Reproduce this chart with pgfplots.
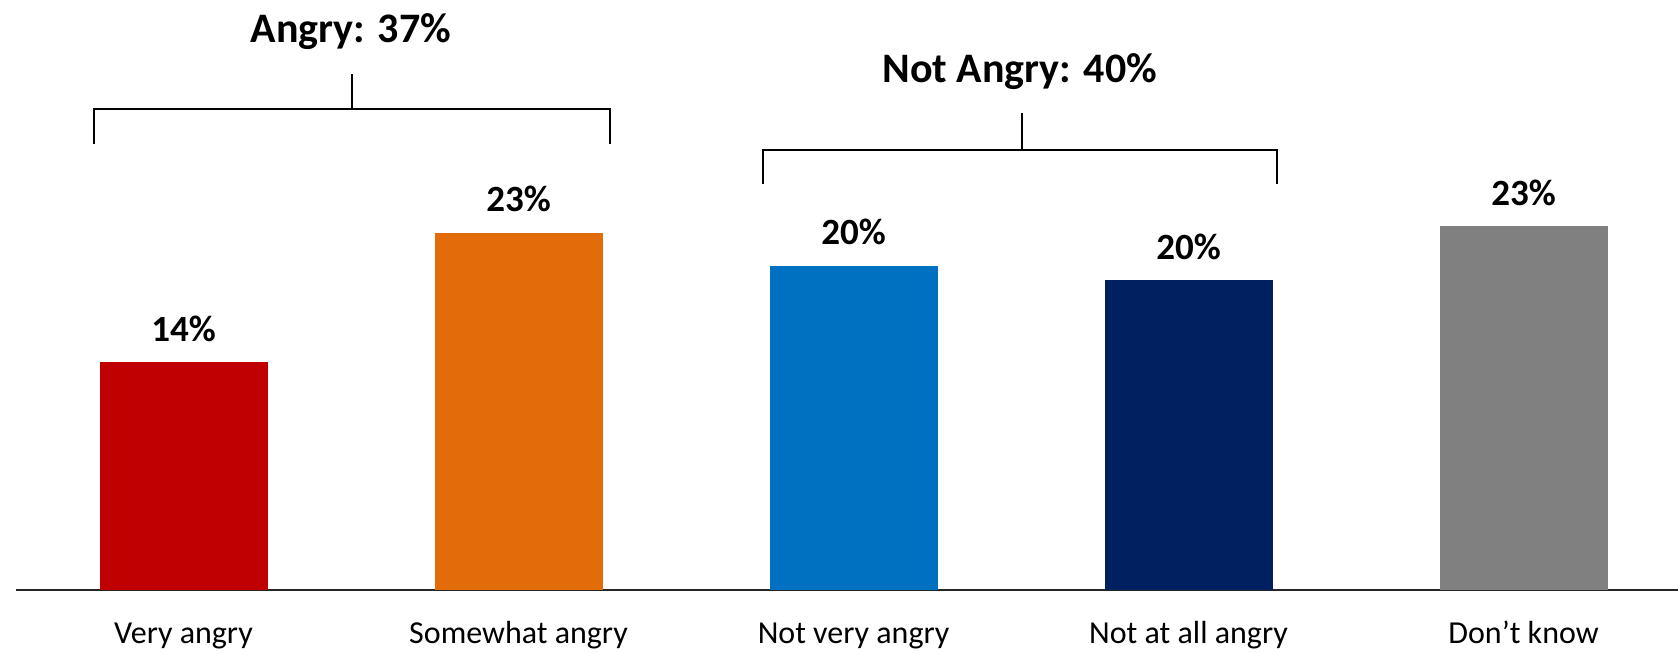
\documentclass[border=0pt]{standalone}
\usepackage{pgfplots}
\pgfplotsset{compat=1.18}
\usepackage{fontspec}
\setmainfont{Carlito}
\definecolor{cRed}{HTML}{C00000}
\definecolor{cOrange}{HTML}{E36C0A}
\definecolor{cBlue}{HTML}{0070C0}
\definecolor{cNavy}{HTML}{002060}
\definecolor{cGray}{HTML}{808080}
\begin{document}
\begin{tikzpicture}
\begin{axis}[name=ax, scale only axis, width=831pt, height=294.85pt,
  xmin=-0.5, xmax=4.461, ymin=0, ymax=37.32,
  axis y line=none, axis x line*=bottom,
  x axis line style={line width=1pt, black!85, -},
  xtick={0,1,2,3,4},
  xticklabels={Very angry, Somewhat angry, Not very angry, Not at all angry, Don’t know},
  major tick length=0pt, ytick=\empty,
  xticklabel style={anchor=base, yshift=-26.7pt, font=\fontsize{16}{19}\selectfont},
  ybar, bar width=84pt, clip=false,
  nodes near coords, point meta=explicit symbolic,
  nodes near coords style={anchor=base, yshift=10.5pt, font=\bfseries\fontsize{18.5}{22}\selectfont},
]
\addplot[fill=cRed, draw=none, bar shift=0pt] coordinates {(0,14.4) [14\%]};
\addplot[fill=cOrange, draw=none, bar shift=0pt] coordinates {(1,22.6) [23\%]};
\addplot[fill=cBlue, draw=none, bar shift=0pt] coordinates {(2,20.5) [20\%]};
\addplot[fill=cNavy, draw=none, bar shift=0pt] coordinates {(3,19.6) [20\%]};
\addplot[fill=cGray, draw=none, bar shift=0pt] coordinates {(4,23.0) [23\%]};
\draw[line width=1pt] (axis cs:-0.267,28.21) -- (axis cs:-0.267,30.42) -- (axis cs:1.273,30.42) -- (axis cs:1.273,28.21);
\draw[line width=1pt] (axis cs:0.503,30.42) -- (axis cs:0.503,32.64);
\node[anchor=base, inner sep=0pt, font=\bfseries\fontsize{21}{25}\selectfont] at (axis cs:0.5,34.62) {Angry: 37\%};
\draw[line width=1pt] (axis cs:1.730,25.68) -- (axis cs:1.730,27.83) -- (axis cs:3.264,27.83) -- (axis cs:3.264,25.68);
\draw[line width=1pt] (axis cs:2.504,27.83) -- (axis cs:2.504,30.16);
\node[anchor=base, inner sep=0pt, font=\bfseries\fontsize{21}{25}\selectfont] at (axis cs:2.496,32.12) {Not Angry: 40\%};
\end{axis}
\pgfresetboundingbox
\path ([shift={(-8pt,-31.15pt)}]ax.south west) rectangle (ax.north east);
\end{tikzpicture}
\end{document}
